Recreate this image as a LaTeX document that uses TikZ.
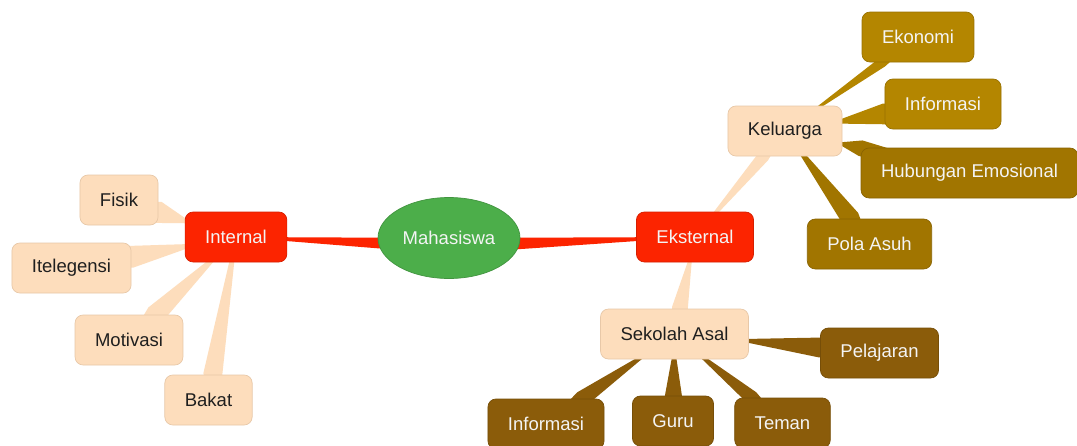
\documentclass[tikz,border=0pt]{standalone}
\usepackage{fontspec}
\setmainfont{Liberation Sans}
\usetikzlibrary{shapes.geometric,calc,backgrounds}

\definecolor{peach}{RGB}{253,221,188}
\definecolor{peachline}{RGB}{232,200,168}
\definecolor{hotred}{RGB}{252,36,0}
\definecolor{leaf}{RGB}{76,174,74}
\definecolor{goldA}{RGB}{180,134,0}
\definecolor{goldB}{RGB}{161,117,0}
\definecolor{umber}{RGB}{139,92,10}
\definecolor{paper}{RGB}{244,244,244}

\tikzset{
  box/.style={rectangle, rounded corners=8pt, minimum height=50pt,
    inner xsep=20pt, inner ysep=0pt, line width=0.7pt,
    font=\fontsize{18.5}{22}\selectfont},
  soft/.style={box, fill=peach, draw=peachline, text=black!88},
  hot/.style={box, fill=hotred, draw=hotred!85!black, text=paper},
  goldbox/.style={box, fill=goldA, draw=goldA!85!black, text=paper},
  deepgold/.style={box, fill=goldB, draw=goldB!85!black, text=paper},
  brownbox/.style={box, fill=umber, draw=umber!85!black, text=paper},
  root/.style={ellipse, minimum width=142pt, minimum height=81pt, inner sep=0pt,
    fill=leaf, draw=leaf!85!black, line width=0.7pt, text=paper,
    font=\fontsize{18.5}{22}\selectfont}
}

% tapered branch between two nodes: from, to, half width at from, half width at to, colour
\newcommand\taper[5]{%
  \path (#1) -- (#2) coordinate[pos=0] (tpA) coordinate[pos=1] (tpB);
  \fill[#5] (#1.center) -- ($(tpA)!#3!90:(tpB)$) -- ($(tpB)!#4!-90:(tpA)$)
    -- (#2.center) -- ($(tpB)!#4!90:(tpA)$) -- ($(tpA)!#3!-90:(tpB)$) -- cycle;
}
% main branch: a wedge with its point in the child and its base below the root centre
\newcommand\mainbranch[3]{%
  \fill[#3] (#2.center) -- (#1.center) -- ([yshift=-16pt]#1.center) -- cycle;
}

\begin{document}
\begin{tikzpicture}[x=1pt, y=-1pt]
  \useasboundingbox (0,0) rectangle (1077,445);

  % centre
  \node[root] (mhs) at (449,238) {Mahasiswa};

  % first level
  \node[hot] (int) at (236,237) {Internal};
  \node[hot] (eks) at (695,237) {Eksternal};

  % internal factors
  \node[soft] (fis) at (119,200) {Fisik};
  \node[soft] (itl) at (71.5,268) {Itelegensi};
  \node[soft] (mot) at (129,340) {Motivasi};
  \node[soft] (bak) at (208.5,400) {Bakat};

  % external factors
  \node[soft] (kel) at (785,131) {Keluarga};
  \node[soft] (sek) at (674.5,334) {Sekolah Asal};

  % family
  \node[goldbox] (eko) at (918,37) {Ekonomi};
  \node[goldbox] (infk) at (943,104) {Informasi};
  \node[deepgold] (hub) at (969.5,173) {Hubungan Emosional};
  \node[deepgold] (pol) at (869.5,244) {Pola Asuh};

  % school
  \node[brownbox] (pel) at (879.5,353) {Pelajaran};
  \node[brownbox] (infs) at (546,424) {Informasi};
  \node[brownbox] (gur) at (673,421) {Guru};
  \node[brownbox] (tem) at (782.5,423) {Teman};

  \begin{scope}[on background layer]
    \fill[white] (0,0) rectangle (1077,445);

    \mainbranch{mhs}{int}{hotred}
    \mainbranch{mhs}{eks}{hotred}

    \taper{int}{fis}{2.5pt}{11pt}{peach}
    \taper{int}{itl}{2.5pt}{11pt}{peach}
    \taper{int}{mot}{2.5pt}{10pt}{peach}
    \taper{int}{bak}{2.5pt}{9.5pt}{peach}

    \taper{eks}{kel}{2pt}{6pt}{peach}
    \taper{eks}{sek}{2pt}{8pt}{peach}

    \taper{kel}{eko}{1.5pt}{5pt}{goldA}
    \taper{kel}{infk}{2.5pt}{10.5pt}{goldA}
    \taper{kel}{hub}{2pt}{8pt}{goldB}
    \taper{kel}{pol}{2.5pt}{9.5pt}{goldB}

    \taper{sek}{infs}{2pt}{8pt}{umber}
    \taper{sek}{gur}{2.5pt}{8.5pt}{umber}
    \taper{sek}{tem}{2pt}{7pt}{umber}
    \taper{sek}{pel}{2pt}{10pt}{umber}
  \end{scope}
\end{tikzpicture}
\end{document}
